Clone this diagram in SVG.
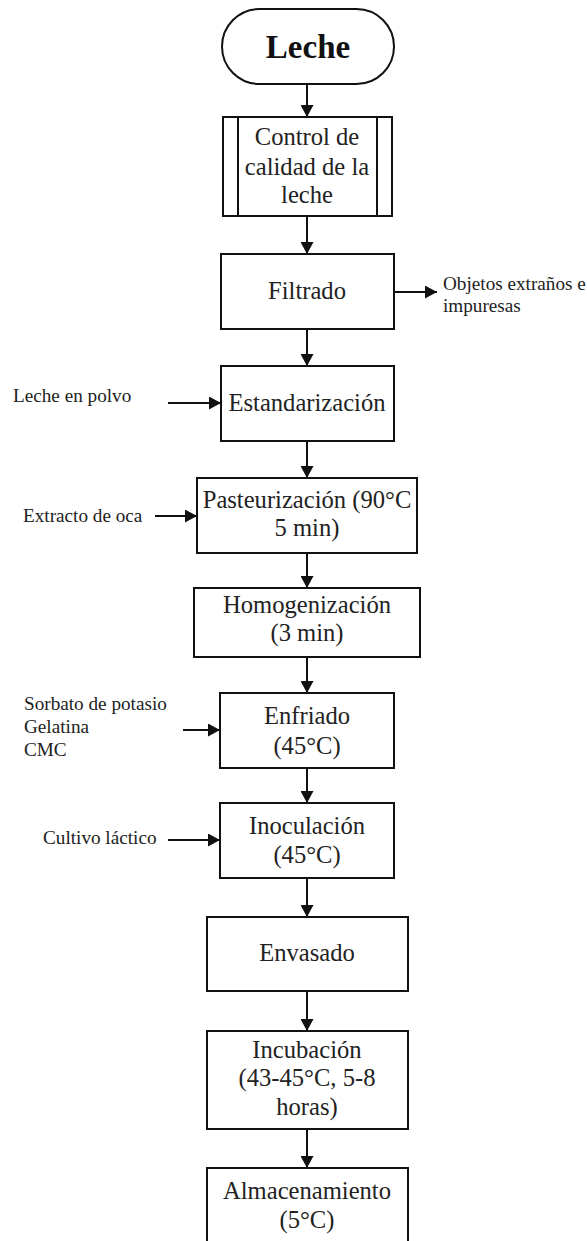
<svg xmlns="http://www.w3.org/2000/svg" width="587" height="1241" viewBox="0 0 587 1241">
<style>
.box{fill:#fff;stroke:#111;stroke-width:2}
.t{font-family:"Liberation Serif","Times New Roman",serif;font-size:24.6px;fill:#222;text-anchor:middle}
.s{font-family:"Liberation Serif","Times New Roman",serif;font-size:19.2px;fill:#222}
.c{stroke:#111;stroke-width:2;fill:none;marker-end:url(#ah)}
</style>
<defs>
<marker id="ah" markerUnits="userSpaceOnUse" markerWidth="13" markerHeight="13" refX="12" refY="6.5" orient="auto">
<path d="M0,0 L12,6.5 L0,13 z" fill="#111"/>
</marker>
</defs>
<rect width="587" height="1241" fill="#fff"/>
<g id="connectors">
<line class="c" x1="307" y1="84" x2="307" y2="117"/>
<line class="c" x1="307" y1="216" x2="307" y2="254"/>
<line class="c" x1="307" y1="329" x2="307" y2="366"/>
<line class="c" x1="307" y1="441" x2="307" y2="478"/>
<line class="c" x1="307" y1="553" x2="307" y2="588"/>
<line class="c" x1="307" y1="657" x2="307" y2="693"/>
<line class="c" x1="307" y1="768" x2="307" y2="803"/>
<line class="c" x1="307" y1="878" x2="307" y2="917"/>
<line class="c" x1="307" y1="991" x2="307" y2="1031"/>
<line class="c" x1="307" y1="1129" x2="307" y2="1168"/>
<line class="c" x1="394" y1="292" x2="437" y2="292"/>
<line class="c" x1="168" y1="403" x2="221" y2="403"/>
<line class="c" x1="155" y1="516" x2="197" y2="516"/>
<line class="c" x1="183" y1="730" x2="220" y2="730"/>
<line class="c" x1="168" y1="840" x2="220" y2="840"/>
</g>
<g id="leche">
<rect class="box" x="222" y="9" width="172" height="75" rx="37.5"/>
<text x="308" y="58" style="font-family:'Liberation Serif','Times New Roman',serif;font-size:33px;font-weight:bold;fill:#111;text-anchor:middle">Leche</text>
</g>
<g id="control">
<rect class="box" x="223" y="117" width="169" height="99"/>
<line x1="238" y1="117" x2="238" y2="216" stroke="#111" stroke-width="2"/>
<line x1="377" y1="117" x2="377" y2="216" stroke="#111" stroke-width="2"/>
<text class="t" x="307" y="145">Control de</text>
<text class="t" x="307" y="175">calidad de la</text>
<text class="t" x="307" y="203">leche</text>
</g>
<g id="filtrado">
<rect class="box" x="221" y="254" width="173" height="75"/>
<text class="t" x="307" y="299">Filtrado</text>
</g>
<g id="objetos">
<text class="s" x="443" y="290">Objetos extraños e</text>
<text class="s" x="443" y="312">impuresas</text>
</g>
<g id="estandarizacion">
<rect class="box" x="221" y="366" width="173" height="75"/>
<text class="t" x="307" y="411">Estandarización</text>
</g>
<g id="leche-polvo">
<text class="s" x="13" y="402">Leche en polvo</text>
</g>
<g id="pasteurizacion">
<rect class="box" x="197" y="478" width="220" height="75"/>
<text class="t" x="307" y="508">Pasteurización (90°C</text>
<text class="t" x="307" y="536">5 min)</text>
</g>
<g id="extracto">
<text class="s" x="23" y="522">Extracto de oca</text>
</g>
<g id="homogenizacion">
<rect class="box" x="194" y="588" width="226" height="69"/>
<text class="t" x="307" y="613">Homogenización</text>
<text class="t" x="307" y="641">(3 min)</text>
</g>
<g id="enfriado">
<rect class="box" x="220" y="693" width="174" height="75"/>
<text class="t" x="307" y="724">Enfriado</text>
<text class="t" x="307" y="754">(45°C)</text>
</g>
<g id="aditivos">
<text class="s" x="24" y="710">Sorbato de potasio</text>
<text class="s" x="24" y="733">Gelatina</text>
<text class="s" x="24" y="756">CMC</text>
</g>
<g id="inoculacion">
<rect class="box" x="220" y="803" width="174" height="75"/>
<text class="t" x="307" y="834">Inoculación</text>
<text class="t" x="307" y="863">(45°C)</text>
</g>
<g id="cultivo">
<text class="s" x="43" y="844">Cultivo láctico</text>
</g>
<g id="envasado">
<rect class="box" x="207" y="917" width="201" height="74"/>
<text class="t" x="307" y="961">Envasado</text>
</g>
<g id="incubacion">
<rect class="box" x="207" y="1031" width="201" height="98"/>
<text class="t" x="307" y="1058">Incubación</text>
<text class="t" x="307" y="1086">(43-45°C, 5-8</text>
<text class="t" x="307" y="1115">horas)</text>
</g>
<g id="almacenamiento">
<rect class="box" x="207" y="1168" width="201" height="90"/>
<text class="t" x="307" y="1199">Almacenamiento</text>
<text class="t" x="307" y="1228">(5°C)</text>
</g>
</svg>
